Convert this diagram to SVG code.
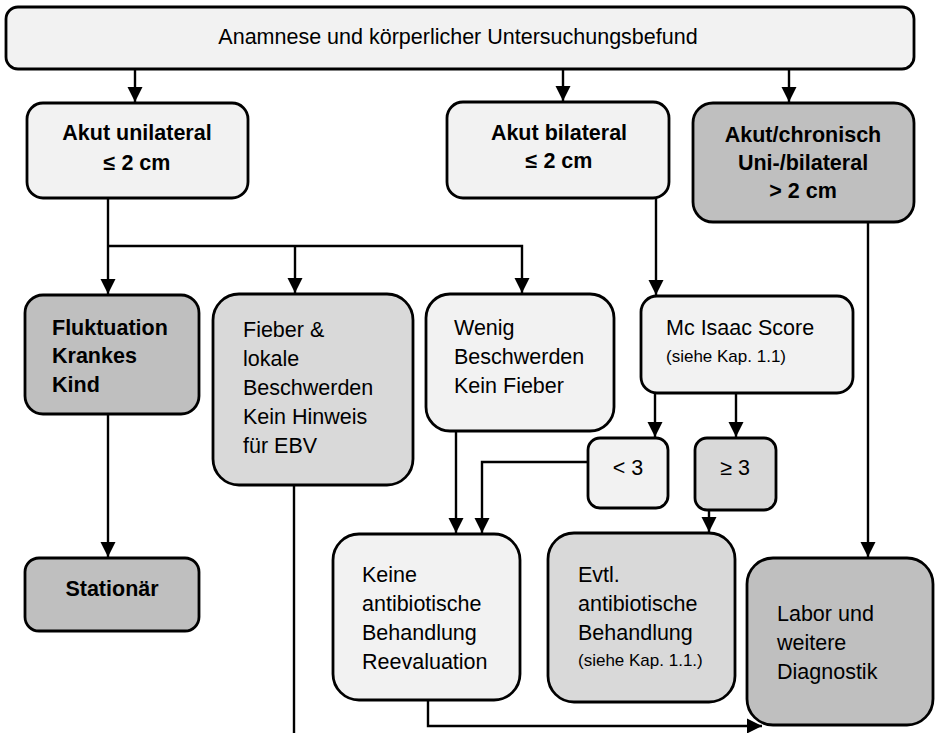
<svg xmlns="http://www.w3.org/2000/svg" width="940" height="733" viewBox="0 0 940 733">
  <style>
    .box { stroke: #000; stroke-width: 2.8; }
    .l1 { fill: #f2f2f2; }
    .l2 { fill: #d9d9d9; }
    .l3 { fill: #bfbfbf; }
    text { font-family: "Liberation Sans", Arial, sans-serif; font-size: 21.5px; fill: #000; }
    .b { font-weight: bold; }
    .c { text-anchor: middle; }
    .s { font-size: 17px; }
    .conn { fill: none; stroke: #000; stroke-width: 2.4; }
  </style>
  <defs>
    <marker id="arrow" markerUnits="userSpaceOnUse" markerWidth="16" markerHeight="16" refX="15" refY="8" orient="auto">
      <path d="M0,0.5 L15,8 L0,15.5 Z" fill="#000"/>
    </marker>
  </defs>

  <rect width="940" height="733" fill="#fff"/>

  <!-- connectors -->
  <g id="connectors" class="conn">
    <line x1="135" y1="69" x2="135" y2="102" marker-end="url(#arrow)"/>
    <line x1="563" y1="69" x2="563" y2="101" marker-end="url(#arrow)"/>
    <line x1="789" y1="69" x2="789" y2="102" marker-end="url(#arrow)"/>
    <line x1="108" y1="198" x2="108" y2="294" marker-end="url(#arrow)"/>
    <polyline points="108,246 522,246 522,293" marker-end="url(#arrow)"/>
    <line x1="295" y1="246" x2="295" y2="293" marker-end="url(#arrow)"/>
    <line x1="656" y1="198" x2="656" y2="295" marker-end="url(#arrow)"/>
    <line x1="868" y1="222" x2="868" y2="557" marker-end="url(#arrow)"/>
    <line x1="108" y1="414" x2="108" y2="557" marker-end="url(#arrow)"/>
    <line x1="294" y1="485" x2="294" y2="733"/>
    <line x1="456" y1="431" x2="456" y2="533" marker-end="url(#arrow)"/>
    <polyline points="588,462 482,462 482,533" marker-end="url(#arrow)"/>
    <line x1="655" y1="393" x2="655" y2="437" marker-end="url(#arrow)"/>
    <line x1="736" y1="393" x2="736" y2="437" marker-end="url(#arrow)"/>
    <line x1="709" y1="510" x2="709" y2="532" marker-end="url(#arrow)"/>
    <polyline points="428,700 428,726 762,726" marker-end="url(#arrow)"/>
  </g>

  <!-- nodes -->
  <g id="start">
    <rect class="box l1" x="6" y="7" width="908" height="62" rx="12"/>
    <text class="c" x="458" y="44">Anamnese und körperlicher Untersuchungsbefund</text>
  </g>

  <g id="akut-unilateral">
    <rect class="box l1" x="27" y="103" width="221" height="95" rx="16"/>
    <text class="b c" x="137" y="140">Akut unilateral</text>
    <text class="b c" x="137" y="170">≤ 2 cm</text>
  </g>

  <g id="akut-bilateral">
    <rect class="box l1" x="447" y="102" width="222" height="96" rx="16"/>
    <text class="b c" x="559" y="140">Akut bilateral</text>
    <text class="b c" x="559" y="168">≤ 2 cm</text>
  </g>

  <g id="akut-chronisch">
    <rect class="box l3" x="693" y="103" width="221" height="119" rx="20"/>
    <text class="b c" x="803" y="142">Akut/chronisch</text>
    <text class="b c" x="803" y="170">Uni-/bilateral</text>
    <text class="b c" x="803" y="198">&gt; 2 cm</text>
  </g>

  <g id="fluktuation">
    <rect class="box l3" x="25" y="295" width="174" height="119" rx="18"/>
    <text class="b" x="52" y="335">Fluktuation</text>
    <text class="b" x="52" y="363">Krankes</text>
    <text class="b" x="52" y="392">Kind</text>
  </g>

  <g id="fieber">
    <rect class="box l2" x="213" y="294" width="200" height="191" rx="26"/>
    <text x="243" y="337">Fieber &amp;</text>
    <text x="243" y="366">lokale</text>
    <text x="243" y="395">Beschwerden</text>
    <text x="243" y="424">Kein Hinweis</text>
    <text x="243" y="453">für EBV</text>
  </g>

  <g id="wenig">
    <rect class="box l1" x="426" y="294" width="188" height="137" rx="24"/>
    <text x="454" y="335">Wenig</text>
    <text x="454" y="364">Beschwerden</text>
    <text x="454" y="393">Kein Fieber</text>
  </g>

  <g id="mcisaac">
    <rect class="box l1" x="641" y="296" width="212" height="97" rx="16"/>
    <text x="666" y="335">Mc Isaac Score</text>
    <text class="s" x="666" y="362">(siehe Kap. 1.1)</text>
  </g>

  <g id="score-low">
    <rect class="box l1" x="588" y="438" width="80" height="70" rx="12"/>
    <text class="c" x="628" y="475">&lt; 3</text>
  </g>

  <g id="score-high">
    <rect class="box l2" x="695" y="438" width="81" height="72" rx="12"/>
    <text class="c" x="735" y="475">≥ 3</text>
  </g>

  <g id="stationaer">
    <rect class="box l3" x="25" y="558" width="174" height="73" rx="14"/>
    <text class="b c" x="112" y="596">Stationär</text>
  </g>

  <g id="keine">
    <rect class="box l1" x="333" y="534" width="187" height="166" rx="26"/>
    <text x="362" y="582">Keine</text>
    <text x="362" y="611">antibiotische</text>
    <text x="362" y="640">Behandlung</text>
    <text x="362" y="669">Reevaluation</text>
  </g>

  <g id="evtl">
    <rect class="box l2" x="548" y="533" width="187" height="169" rx="26"/>
    <text x="578" y="582">Evtl.</text>
    <text x="578" y="611">antibiotische</text>
    <text x="578" y="640">Behandlung</text>
    <text class="s" x="578" y="666">(siehe Kap. 1.1.)</text>
  </g>

  <g id="labor">
    <rect class="box l3" x="747" y="558" width="186" height="167" rx="26"/>
    <text x="777" y="621">Labor und</text>
    <text x="777" y="650">weitere</text>
    <text x="777" y="679">Diagnostik</text>
  </g>
</svg>
